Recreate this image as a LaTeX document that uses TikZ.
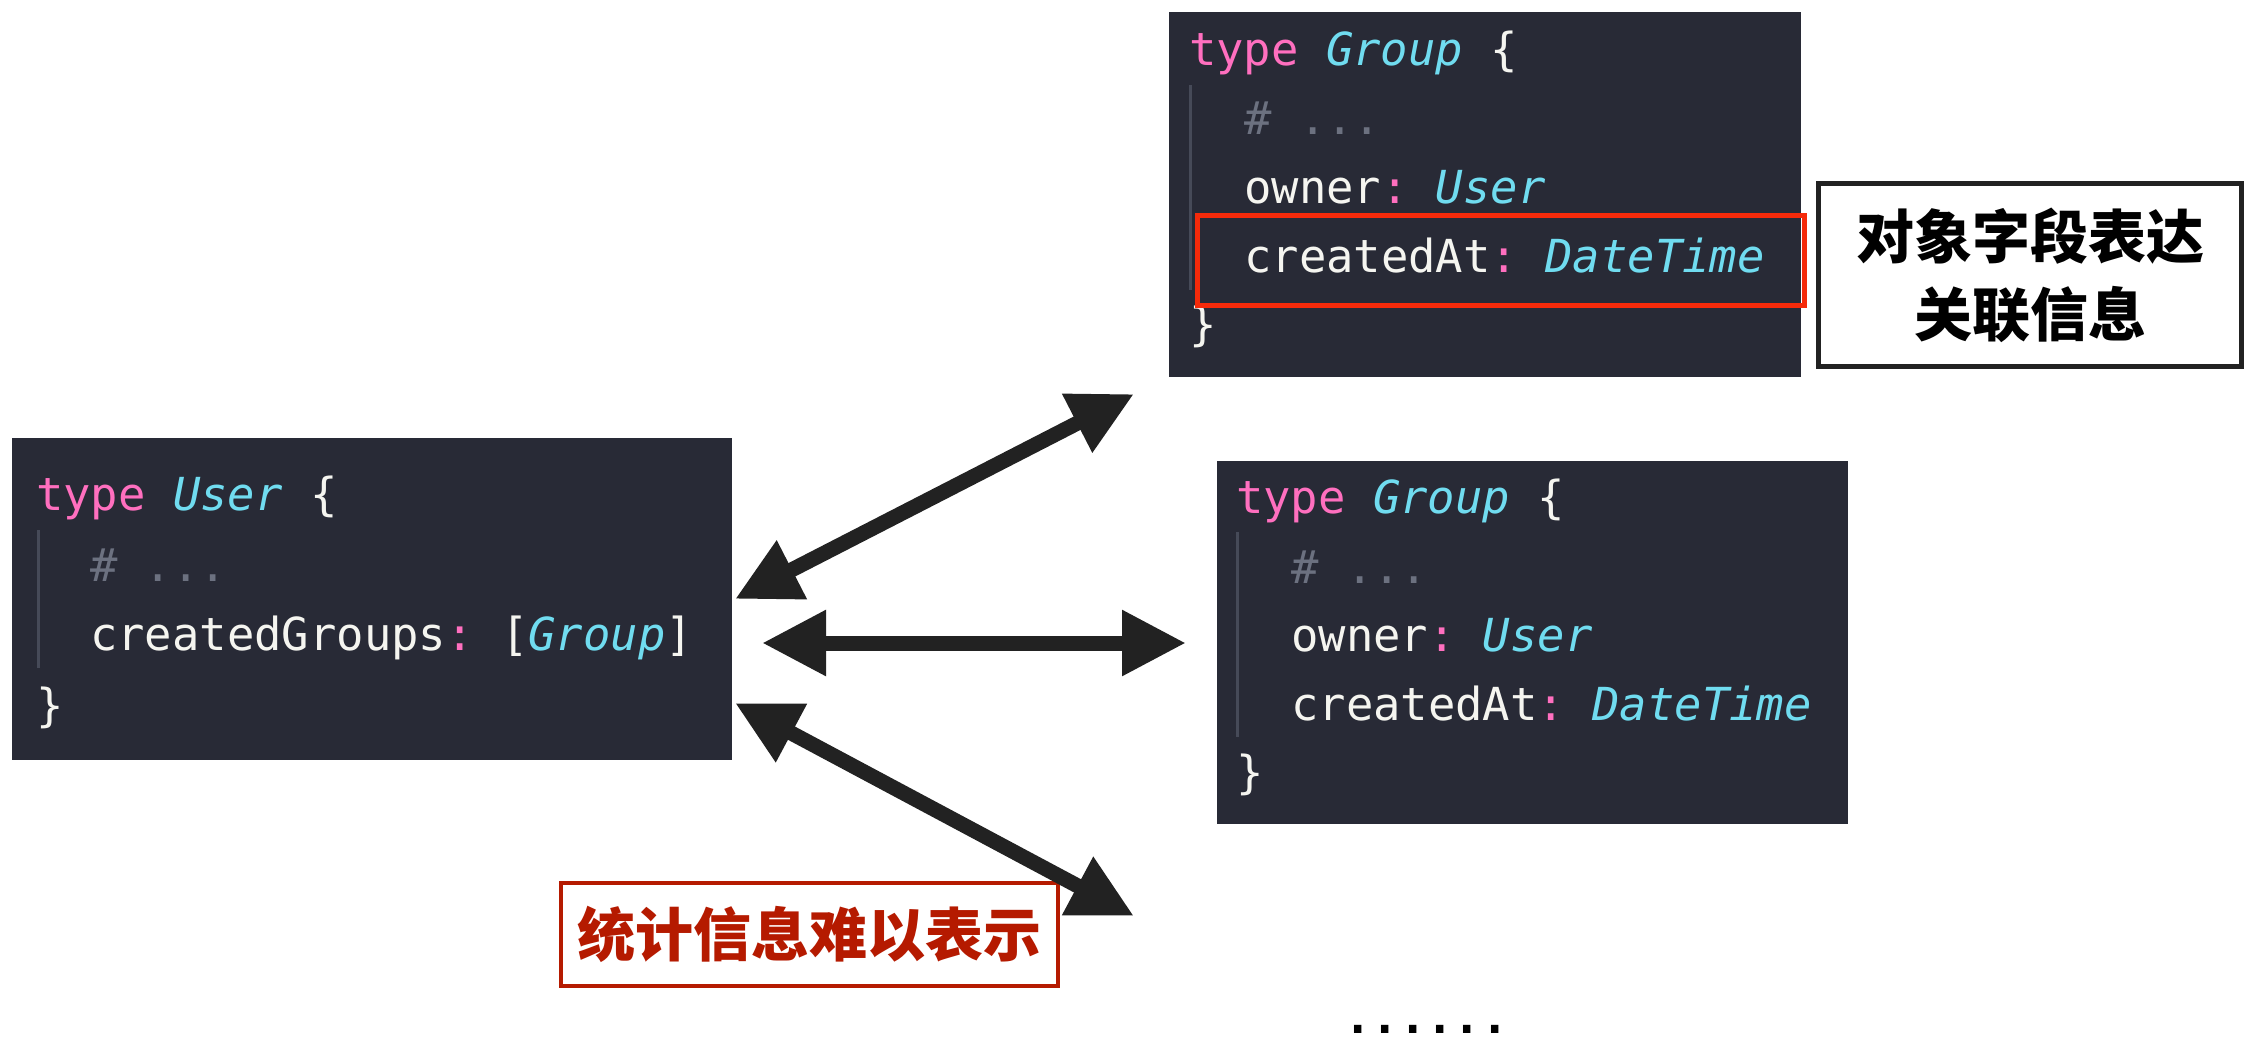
\documentclass[tikz,border=0pt]{standalone}
\usepackage{fontspec}
\setmonofont{DejaVu Sans Mono}
\newfontfamily\cjk{Noto Sans CJK SC}
\usetikzlibrary{arrows.meta}
\definecolor{codebg}{HTML}{282A36}
\definecolor{kw}{HTML}{FF6FBF}
\definecolor{ty}{HTML}{70DCF0}
\definecolor{fg}{HTML}{F5F5F0}
\definecolor{cm}{HTML}{6C7180}
\definecolor{guidec}{HTML}{464A58}
\definecolor{hlred}{HTML}{F52A0A}
\definecolor{darkred}{HTML}{B51A00}
\definecolor{arrowc}{HTML}{222222}
\tikzset{
  codebox/.style={fill=codebg, draw=none, inner sep=0pt, anchor=north west},
  code/.style={inner sep=0pt, anchor=base west, text=fg, font=\ttfamily\fontsize{45.5}{55}\selectfont},
  guide/.style={draw=guidec, line width=3pt},
  hlbox/.style={draw=hlred, line width=5pt, inner sep=0pt},
  notebox/.style={draw=arrowc, line width=5pt, fill=white, inner sep=0pt, align=center,
     font=\cjk\bfseries\fontsize{58}{78}\selectfont},
  warnbox/.style={draw=darkred, line width=4pt, fill=white, inner sep=0pt, text=darkred,
     font=\cjk\bfseries\fontsize{58}{70}\selectfont},
  bigarrow/.style={draw=arrowc, line width=15pt,
     {Triangle[length=64pt,width=62pt]}-{Triangle[length=64pt,width=62pt]}}
}
\newcommand{\kwd}[1]{\textcolor{kw}{#1}}
\newcommand{\tyd}[1]{\textcolor{ty}{\itshape #1}}
\newcommand{\cmd}[1]{\textcolor{cm}{#1}}
\begin{document}
\begin{tikzpicture}[x=1pt,y=-1pt]
\useasboundingbox (0,0) rectangle (2258,1037);
\fill[white] (0,0) rectangle (2258,1037);

% top Group box
\node[codebox, minimum width=632pt, minimum height=365pt] (g1) at (1169,12) {};
\draw[guide] (1190,85) -- (1190,290);
\node[code] (g1a) at (1189,65) {\kwd{type} \tyd{Group} \{};
\node[code] (g1b) at (1244,134) {\cmd{\# ...}};
\node[code] (g1c) at (1244,203) {owner\kwd{:} \tyd{User}};
\node[code] (g1d) at (1244,272) {createdAt\kwd{:} \tyd{DateTime}};
\node[code] (g1e) at (1189,340) {\}};

% User box
\node[codebox, minimum width=720pt, minimum height=322pt] (user) at (12,438) {};
\draw[guide] (38,530) -- (38,668);
\node[code] (u1) at (36,510) {\kwd{type} \tyd{User} \{};
\node[code] (u2) at (90,581) {\cmd{\# ...}};
\node[code] (u3) at (90,650) {createdGroups\kwd{:} [\tyd{Group}]};
\node[code] (u4) at (36,721) {\}};

% middle Group box
\node[codebox, minimum width=631pt, minimum height=363pt] (g2) at (1217,461) {};
\draw[guide] (1237,532) -- (1237,737);
\node[code] (g2a) at (1236,513) {\kwd{type} \tyd{Group} \{};
\node[code] (g2b) at (1291,583) {\cmd{\# ...}};
\node[code] (g2c) at (1291,651) {owner\kwd{:} \tyd{User}};
\node[code] (g2d) at (1291,720) {createdAt\kwd{:} \tyd{DateTime}};
\node[code] (g2e) at (1236,788) {\}};

% highlight of createdAt
\node[hlbox, minimum width=607pt, minimum height=90pt] (hl) at (1501,260.5) {};

% annotation
\node[notebox, minimum width=423pt, minimum height=183pt] (note) at (2030,275) {对象字段表达\\关联信息};

% warning label
\node[warnbox, minimum width=497pt, minimum height=103pt] (warn) at (809.5,934.5) {统计信息难以表示};

% arrows
\coordinate (a1s) at (735,599);
\coordinate (a1e) at (1134,394);
\coordinate (a2s) at (762,643);
\coordinate (a2e) at (1186,643);
\coordinate (a3s) at (735,703);
\coordinate (a3e) at (1134,916);
\draw[bigarrow] (a1s) -- (a1e);
\draw[bigarrow] (a2s) -- (a2e);
\draw[bigarrow] (a3s) -- (a3e);

% more
\node[inner sep=0pt, anchor=base west, font=\ttfamily\bfseries\fontsize{45.5}{55}\selectfont] (more) at (1344,1033) {......};
\end{tikzpicture}
\end{document}
